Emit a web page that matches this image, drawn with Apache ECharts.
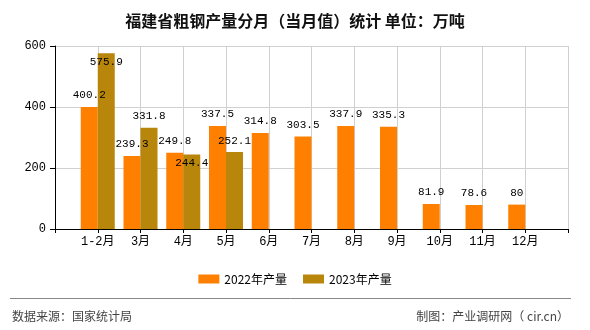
<!DOCTYPE html>
<html>
<head>
<meta charset="utf-8">
<script src="https://cdn.jsdelivr.net/npm/echarts@6/dist/echarts.min.js"></script>
<style>
html,body{margin:0;padding:0;background:#fff;}
#c{width:590px;height:330px;}
</style>
</head>
<body>
<div id="c"></div>
<script>
const months = ['1-2月','3月','4月','5月','6月','7月','8月','9月','10月','11月','12月'];
const series2022Name = '2022年产量';
const series2023Name = '2023年产量';
const values2022 = [400.2, 239.3, 249.8, 337.5, 314.8, 303.5, 337.9, 335.3, 81.9, 78.6, 80];
const values2023 = [575.9, 331.8, 244.4, 252.1, null, null, null, null, null, null, null];
const yTicks = [0, 200, 400, 600];

// label placement tweaks (styling, kept separate from data)
const inside2023 = [0, 2];

const cats = [''].concat(months, ['']);
const pad = arr => [null].concat(arr, [null]);

const numFont = "'Liberation Mono', 'DejaVu Sans Mono', monospace";
const cjkFont = "'Liberation Mono', 'Noto Sans CJK SC', sans-serif";

const d2022 = pad(values2022).map(v => v == null ? null : {value: v});
const d2023 = pad(values2023).map((v, i) => {
  if (v == null) return null;
  const item = {value: v};
  if (inside2023.indexOf(i - 1) >= 0) {
    item.label = {position: 'insideTop', distance: 3};
  }
  return item;
});

const chart = echarts.init(document.getElementById('c'));
chart.setOption({
  animation: false,
  backgroundColor: '#fff',
  title: {
    text: '福建省粗钢产量分月（当月值）统计 单位：万吨',
    left: 'center',
    top: 8,
    textStyle: {fontSize: 16, fontWeight: 'bold', color: '#111', fontFamily: "'Noto Sans CJK SC', sans-serif"}
  },
  legend: {
    top: 268,
    left: 'center',
    itemWidth: 21,
    itemHeight: 9,
    itemGap: 16,
    icon: 'rect',
    textStyle: {fontSize: 12, color: '#000', fontFamily: "'Noto Sans CJK SC', sans-serif"},
    data: [series2022Name, series2023Name]
  },
  grid: {left: 55, right: 22, top: 46, bottom: 101, containLabel: false},
  xAxis: {
    type: 'category',
    data: cats,
    boundaryGap: false,
    axisLine: {lineStyle: {color: '#000', width: 1}},
    axisTick: {show: true, length: 4, lineStyle: {color: '#000'}},
    axisLabel: {color: '#000', fontSize: 12, margin: 7, fontFamily: cjkFont, interval: 0},
    splitLine: {show: true, lineStyle: {color: '#d0d0d0', width: 1}}
  },
  yAxis: {
    type: 'value',
    min: yTicks[0],
    max: yTicks[yTicks.length - 1],
    interval: 200,
    axisLine: {show: true, lineStyle: {color: '#000'}},
    axisTick: {show: true, length: 5, lineStyle: {color: '#000'}},
    axisLabel: {color: '#000', fontSize: 12, margin: 9, fontFamily: numFont},
    splitLine: {show: true, lineStyle: {color: '#d0d0d0', width: 1}}
  },
  series: [
    {
      name: series2022Name,
      type: 'bar',
      data: d2022,
      barWidth: 17,
      barGap: '0%',
      itemStyle: {color: '#FF8000'},
      label: {show: true, position: 'top', distance: 6, color: '#000', fontSize: 11, fontFamily: numFont}
    },
    {
      name: series2023Name,
      type: 'bar',
      data: d2023,
      barWidth: 17,
      barGap: '0%',
      itemStyle: {color: '#B8860B'},
      label: {show: true, position: 'top', distance: 6, color: '#000', fontSize: 11, fontFamily: numFont}
    }
  ],
  graphic: [
    {type: 'line', shape: {x1: 10, y1: 298.5, x2: 571, y2: 298.5}, style: {stroke: '#888', lineWidth: 1}},
    {type: 'text', left: 12, top: 310, style: {text: '数据来源：国家统计局', fill: '#444', font: "12px 'Noto Sans CJK SC', sans-serif"}},
    {type: 'text', right: 21, top: 310, style: {text: '制图：产业调研网（ cir.cn）', fill: '#444', font: "12px 'Noto Sans CJK SC', sans-serif"}}
  ]
});
</script>
</body>
</html>
